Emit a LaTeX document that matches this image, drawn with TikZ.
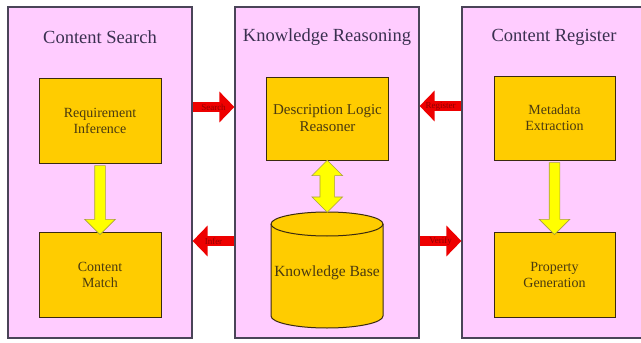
\documentclass[tikz,border=0pt]{standalone}
\usepackage{fontspec}
\setmainfont{Liberation Serif}
\newfontfamily\figfont{Liberation Serif}
\usetikzlibrary{arrows.meta,shapes.arrows,calc}

\definecolor{panelpink}{HTML}{FFCCFF}
\definecolor{paneledge}{HTML}{4A4458}
\definecolor{boxgold}{HTML}{FFCC00}
\definecolor{boxedge}{HTML}{3A2A10}
\definecolor{boxtext}{HTML}{4A3A10}
\definecolor{titletext}{HTML}{3A3050}
\definecolor{arrowred}{HTML}{EE0000}
\definecolor{labelred}{HTML}{900000}
\definecolor{arrowyellow}{HTML}{FFFF00}
\definecolor{arrowedge}{HTML}{A8A040}

\begin{document}
\begin{tikzpicture}[x=1pt,y=-1pt,
  panel/.style={draw=paneledge,fill=panelpink,line width=1.2pt,
    minimum width=184pt,minimum height=331pt,inner sep=0pt},
  title/.style={font=\figfont\fontsize{18.5}{20}\selectfont,text=titletext},
  task/.style={draw=boxedge,fill=boxgold,line width=1pt,inner sep=0pt,
    minimum width=122pt,minimum height=85pt,align=center,
    font=\figfont\fontsize{14}{16}\selectfont,text=boxtext},
  flow/.style={single arrow,draw=arrowedge,fill=arrowyellow,line width=0.6pt,
    inner sep=5pt,minimum width=30pt,single arrow head extend=10pt},
  flowboth/.style={double arrow,draw=arrowedge,fill=arrowyellow,line width=0.6pt,
    inner sep=7pt,minimum width=30pt,double arrow head extend=8pt},
  link/.style={arrowred,line width=10pt,-{Triangle[length=15pt,width=30pt]}},
  tag/.style={font=\figfont\fontsize{9}{9}\selectfont,text=labelred,inner sep=0pt}]
\useasboundingbox (0,0) rectangle (641,343);
\fill[white] (0,0) rectangle (641,343);
% three panels
\node[panel] (cs) at (100,172.5) {};
\node[panel] (kr) at (327,172.5) {};
\node[panel] (cr) at (554,172.5) {};
\node[title] (cst) at (100,37) {Content Search};
\node[title] (krt) at (327,37) {Knowledge Reasoning};
\node[title] (crt) at (554,37) {Content Register};
% content search
\node[task] (req) at (100,120.5) {Requirement\\Inference};
\node[task] (match) at (100,274.5) {Content\\Match};
\node[flow,rotate=-90,minimum height=69pt] (reqflow)
  at ($(req.south)!0.5!(match.north)$) {};
% knowledge reasoning
\node[task,minimum height=83pt,font=\figfont\fontsize{15}{17}\selectfont] (dlr)
  at (327.5,118.5) {Description Logic\\Reasoner};
\coordinate (kbtop) at (327,212);
\draw[draw=boxedge,fill=boxgold,line width=1pt]
  (271,224) -- (271,316)
  arc[start angle=180,end angle=360,x radius=56pt,y radius=12pt]
  -- (383,224)
  arc[start angle=0,end angle=180,x radius=56pt,y radius=12pt] -- cycle;
\draw[draw=boxedge,line width=1pt]
  (271,224) arc[start angle=180,end angle=360,x radius=56pt,y radius=12pt];
\node[font=\figfont\fontsize{15.5}{17}\selectfont,text=boxtext] (kb) at (327,273) {Knowledge Base};
\node[flowboth,rotate=90,minimum height=52pt] (dlrflow)
  at ($(dlr.south)!0.5!(kbtop)$) {};
% content register
\node[task,minimum width=121pt,minimum height=84pt] (meta) at (554.5,118) {Metadata\\Extraction};
\node[task,minimum width=121pt] (prop) at (554.5,274.5) {Property\\Generation};
\node[flow,rotate=-90,minimum height=72pt] (metaflow)
  at ($(meta.south)!0.5!(prop.north)$) {};
% links between panels
\draw[link] (cs.east |- 0,107) -- (kr.west |- 0,107) node[midway,tag] {Search};
\draw[link] (kr.west |- 0,241) -- (cs.east |- 0,241) node[midway,tag] {Infer};
\draw[link] (cr.west |- 0,106) -- (kr.east |- 0,106) node[midway,tag] {Register};
\draw[link] (kr.east |- 0,241) -- (cr.west |- 0,241) node[midway,tag] {Verify};
\end{tikzpicture}
\end{document}
